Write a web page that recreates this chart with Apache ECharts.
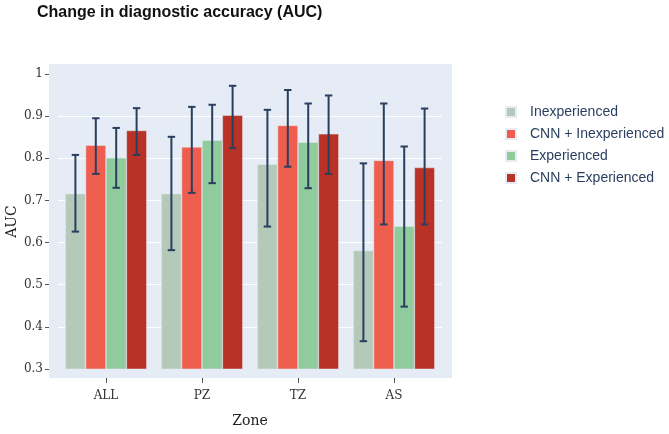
<!DOCTYPE html>
<html>
<head>
<meta charset="utf-8">
<script src="https://cdn.jsdelivr.net/npm/echarts@6/dist/echarts.min.js"></script>
<style>
  html, body { margin: 0; padding: 0; background: #fff; }
  #chart { width: 669px; height: 434px; }
</style>
</head>
<body>
<div id="chart"></div>
<script>
// zones on the x axis
var zones = ['ALL', 'PZ', 'TZ', 'AS']
var groupNames = ['Inexperienced', 'CNN + Inexperienced', 'Experienced', 'CNN + Experienced']
var groupColors = ['#b4c9b9', '#ef5d4f', '#8fcb9c', '#b83227']

// AUC per group, one value per zone
var inexpAuc = [0.716, 0.716, 0.786, 0.581]
var cnnInexpAuc = [0.831, 0.827, 0.878, 0.795]
var expAuc = [0.801, 0.843, 0.838, 0.639]
var cnnExpAuc = [0.866, 0.902, 0.858, 0.778]

// confidence interval, low / high
var inexpLow = [0.626, 0.582, 0.638, 0.366]
var inexpHigh = [0.808, 0.851, 0.915, 0.788]
var cnnInexpLow = [0.763, 0.718, 0.780, 0.643]
var cnnInexpHigh = [0.895, 0.922, 0.962, 0.930]
var expLow = [0.730, 0.741, 0.729, 0.448]
var expHigh = [0.872, 0.927, 0.930, 0.828]
var cnnExpLow = [0.808, 0.824, 0.763, 0.643]
var cnnExpHigh = [0.919, 0.972, 0.949, 0.918]

var yTicks = [0.3, 0.4, 0.5, 0.6, 0.7, 0.8, 0.9, 1]

var aucs = [inexpAuc, cnnInexpAuc, expAuc, cnnExpAuc]
var lows = [inexpLow, cnnInexpLow, expLow, cnnExpLow]
var highs = [inexpHigh, cnnInexpHigh, expHigh, cnnExpHigh]

var barW = 20.4
var serif = 'DejaVu Serif'

var chart = echarts.init(document.getElementById('chart'))

var series = []
for (let i = 0; i < 4; i++) {
    series.push({
        name: groupNames[i],
        type: 'bar',
        data: aucs[i],
        barWidth: barW,
        barGap: '0%',
        itemStyle: { color: groupColors[i], borderColor: '#e5ecf6', borderWidth: 0.5 },
        z: 2
    })
}
// error bars, drawn on top of the bars
for (let i = 0; i < 4; i++) {
    let errData = []
    for (let j = 0; j < zones.length; j++) {
        errData.push([j, lows[i][j], highs[i][j]])
    }
    series.push({
        type: 'custom',
        name: groupNames[i] + ' CI',
        data: errData,
        z: 5,
        silent: true,
        renderItem: function (params, api) {
            let hi = api.coord([api.value(0), api.value(2)])
            let lo = api.coord([api.value(0), api.value(1)])
            let x = hi[0] + (i - 1.5) * barW
            let cap = 3.7
            let st = { stroke: '#2a3f5f', lineWidth: 2 }
            return {
                type: 'group',
                children: [
                    { type: 'line', shape: { x1: x, y1: hi[1], x2: x, y2: lo[1] }, style: st },
                    { type: 'line', shape: { x1: x - cap, y1: hi[1], x2: x + cap, y2: hi[1] }, style: st },
                    { type: 'line', shape: { x1: x - cap, y1: lo[1], x2: x + cap, y2: lo[1] }, style: st }
                ]
            }
        }
    })
}

chart.setOption({
    animation: false,
    title: {
        text: 'Change in diagnostic accuracy (AUC)',
        left: 32,
        top: 0,
        textStyle: { fontFamily: 'Liberation Sans', fontWeight: 'bold', fontSize: 16, color: '#111' }
    },
    graphic: [{
        type: 'rect',
        shape: { x: 49, y: 64, width: 403, height: 314 },
        style: { fill: '#e5ecf6' },
        z: -10,
        silent: true
    }],
    legend: {
        data: groupNames,
        orient: 'vertical',
        left: 500,
        top: 100,
        itemWidth: 10,
        itemHeight: 10,
        itemGap: 8,
        icon: 'rect',
        textStyle: { fontFamily: 'Liberation Sans', fontSize: 14, color: '#2a3f5f', padding: [0, 0, 0, 9] }
    },
    grid: { left: 58, right: 227, top: 74, bottom: 65, outerBoundsMode: 'none', containLabel: false },
    xAxis: {
        type: 'category',
        data: zones,
        offset: 9,
        name: 'Zone',
        nameLocation: 'middle',
        nameGap: 36,
        nameMoveOverlap: false,
        nameTextStyle: { fontFamily: serif, fontSize: 14, color: '#222' },
        axisLine: { show: false },
        axisTick: { show: true, alignWithLabel: true, length: 5, lineStyle: { color: '#555' } },
        axisLabel: { fontFamily: serif, fontSize: 12, color: '#333', margin: 12 },
        splitLine: { show: false }
    },
    yAxis: {
        type: 'value',
        min: yTicks[0],
        max: yTicks[yTicks.length - 1],
        interval: 0.1,
        offset: 9,
        name: 'AUC',
        nameLocation: 'middle',
        nameRotate: 90,
        nameGap: 30,
        nameMoveOverlap: false,
        nameTextStyle: { fontFamily: serif, fontSize: 14, color: '#222' },
        axisLine: { show: false },
        axisTick: { show: true, length: 4, lineStyle: { color: '#555' } },
        axisLabel: { fontFamily: serif, fontSize: 12, color: '#333', margin: 6 },
        splitLine: {
            show: true,
            lineStyle: { color: ['rgba(0,0,0,0)', '#fff', '#fff', '#fff', '#fff', '#fff', '#fff', 'rgba(0,0,0,0)'], width: 1 }
        }
    },
    series: series
})
</script>
</body>
</html>
